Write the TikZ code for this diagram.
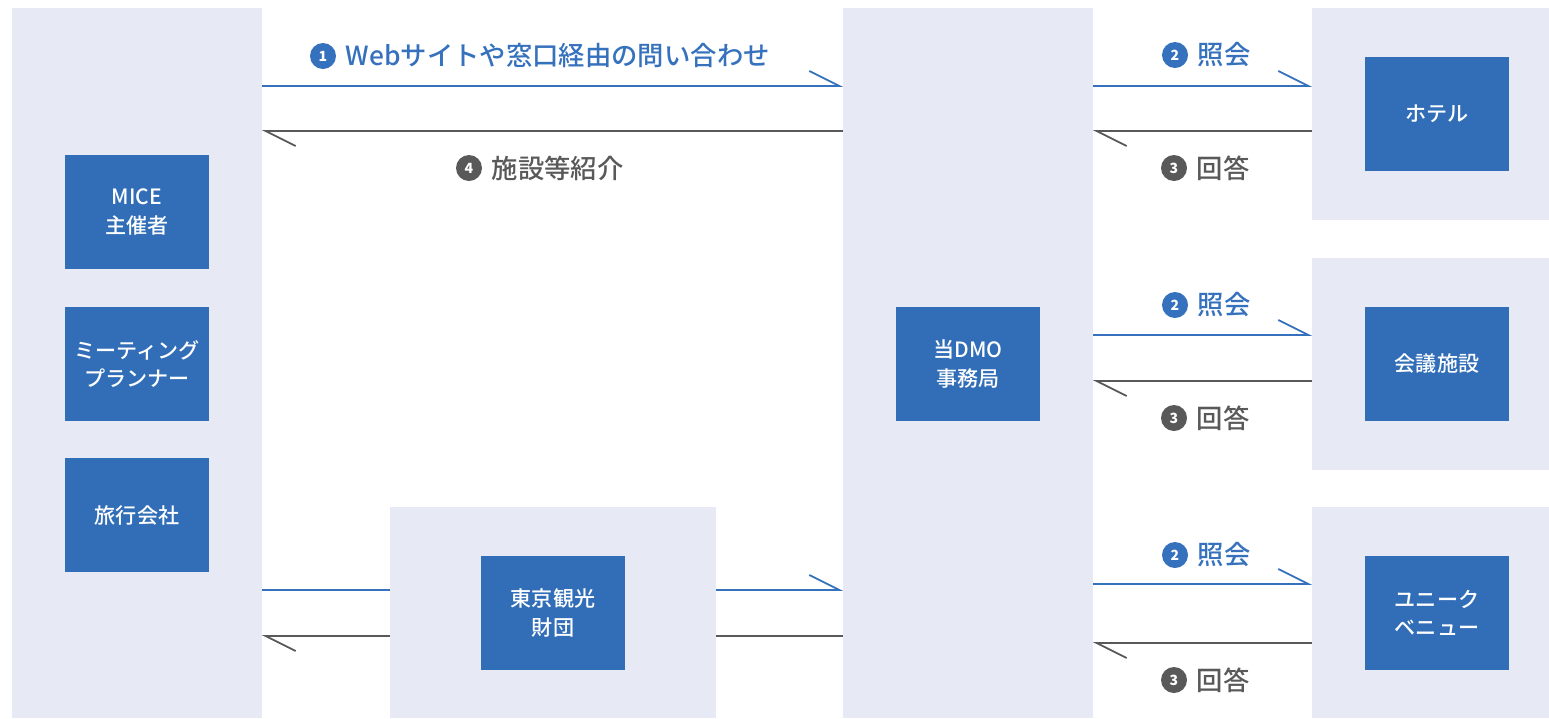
\documentclass[tikz,border=0pt]{standalone}
\usepackage{fontspec}
\setmainfont{Noto Sans CJK JP}
\newfontfamily\medfont{Noto Sans CJK JP Medium}
\usetikzlibrary{positioning,arrows.meta}

\definecolor{panelc}{HTML}{E7EAF5}
\definecolor{boxc}{HTML}{316EB7}
\definecolor{linkc}{HTML}{3571BD}
\definecolor{backc}{HTML}{595959}

\tikzset{
	panel/.style = {fill = panelc, inner sep = 0pt, outer sep = 0pt},
	orgbox/.style = {fill = boxc, text = white, minimum width = 2.88cm, minimum height = 2.28cm,
		inner sep = 0pt, align = center, font = \medfont\fontsize{12}{16}\selectfont},
	golink/.style = {draw = linkc, line width = 1pt},
	backlink/.style = {draw = backc, line width = 1pt},
	barb/.style = {-{Straight Barb[harpoon, length = 0.6cm, width = 0.6cm]}},
	numc/.style = {circle, fill = #1, text = white, minimum size = 0.52cm, inner sep = 0pt,
		font = \fontsize{8}{9}\selectfont\bfseries},
	msgtext/.style = {text = #1, inner sep = 0pt, font = \medfont\fontsize{15}{17}\selectfont}
}

\begin{document}
\begin{tikzpicture}[x = 0.02cm, y = -0.02cm]

	\useasboundingbox (0, 0) rectangle (1549, 718);

	% Panels

	\node [panel, minimum width = 5cm, minimum height = 14.2cm] (pL) at (137, 363) {};
	\node [panel, minimum width = 5cm, minimum height = 14.2cm] (pC) at (968, 363) {};
	\node [panel, minimum width = 6.52cm, minimum height = 4.22cm] (pB) at (553, 612.5) {};
	\node [panel, minimum width = 4.74cm, minimum height = 4.24cm] (pR1) at (1430.5, 114) {};
	\node [panel, minimum width = 4.74cm, minimum height = 4.24cm] (pR2) at (1430.5, 364) {};
	\node [panel, minimum width = 4.74cm, minimum height = 4.22cm] (pR3) at (1430.5, 612.5) {};

	% Organisations

	\node [orgbox] (mice) at (137, 212) {MICE\\主催者};
	\node [orgbox] (planner) at (137, 364) {ミーティング\\プランナー};
	\node [orgbox] (agency) at (137, 515) {旅行会社};
	\node [orgbox] (dmo) at (968, 364) {当DMO\\事務局};
	\node [orgbox] (tcvb) at (553, 613) {東京観光\\財団};
	\node [orgbox] (hotel) at (1437, 114) {ホテル};
	\node [orgbox] (venue) at (1437, 364) {会議施設};
	\node [orgbox] (unique) at (1437, 613) {ユニーク\\ベニュー};

	% Links, left side

	\draw [golink, barb] (pL.east |- 0, 86) -- (pC.west |- 0, 86);
	\draw [backlink, barb] (pC.west |- 0, 131) -- (pL.east |- 0, 131);

	\draw [golink] (pL.east |- 0, 590) -- (pB.west |- 0, 590);
	\draw [golink, barb] (pB.east |- 0, 590) -- (pC.west |- 0, 590);
	\draw [backlink] (pC.west |- 0, 636) -- (pB.east |- 0, 636);
	\draw [backlink, barb] (pB.west |- 0, 636) -- (pL.east |- 0, 636);

	\node [numc = linkc] (n1) at (323, 56) {1};
	\node [msgtext = linkc, right = 0.18cm of n1] (m1) {Webサイトや窓口経由の問い合わせ};
	\node [numc = backc] (n4) at (469, 168) {4};
	\node [msgtext = backc, right = 0.18cm of n4] (m4) {施設等紹介};

	% Links, right side

	\foreach \p/\ya/\yb/\yc/\yd in {pR1/86/131/55/168, pR2/335/381/305/418, pR3/584/643/555/680} {
		\draw [golink, barb] (pC.east |- 0, \ya) -- (\p.west |- 0, \ya);
		\draw [backlink, barb] (\p.west |- 0, \yb) -- (pC.east |- 0, \yb);
		\node [numc = linkc] (q2\p) at (1175, \yc) {2};
		\node [msgtext = linkc, right = 0.18cm of q2\p] {照会};
		\node [numc = backc] (a3\p) at (1174, \yd) {3};
		\node [msgtext = backc, right = 0.18cm of a3\p] {回答};
	}

\end{tikzpicture}
\end{document}
